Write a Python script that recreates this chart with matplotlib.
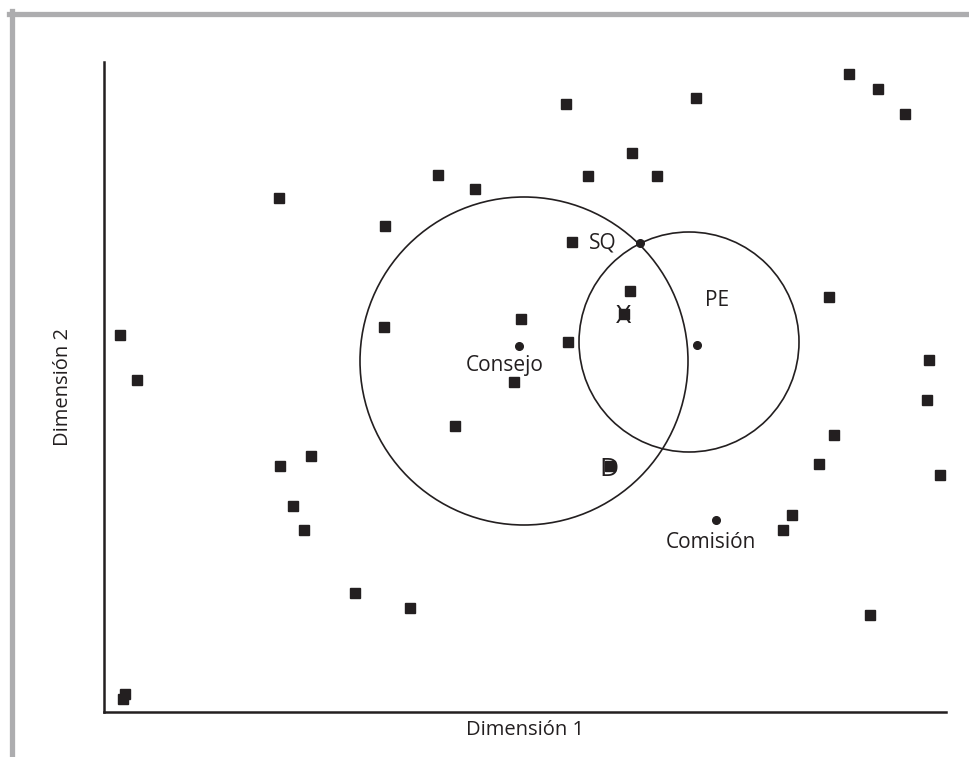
import matplotlib.pyplot as plt
from matplotlib.patches import Circle
from matplotlib.lines import Line2D

plt.rcParams['font.family'] = ['Open Sans', 'DejaVu Sans']

# ideal points of the actors (squares)
sq_x = [16, 33, 21, 19, 175, 176, 207, 189, 200, 251, 306, 281, 280, 334, 371,
        351, 417, 410, 462, 468, 464, 484, 528, 553, 526, 520, 506, 592, 745,
        774, 801, 725, 825, 823, 836, 730, 715, 688, 679, 766]
sq_y = [377, 332, 18, 13, 514, 246, 256, 206, 182, 119, 104, 486, 385, 537, 523,
        286, 393, 330, 608, 470, 370, 536, 559, 536, 421, 398, 246, 614, 638,
        623, 598, 415, 352, 312, 237, 277, 248, 197, 182, 97]

# named positions (dots)
pt_names = ['Consejo', 'PE', 'SQ', 'Comisión']
pt_x = [415, 593, 536, 612]
pt_y = [366, 367, 469, 192]
lbl_x = [401, 613, 499, 607]
lbl_y = [346, 412, 469, 170]

# indifference circles
circ_x = [420, 585]
circ_y = [351, 370]
circ_r = [164, 110]

# letter marks (baseline positions)
let_txt = ['X', 'D']
let_x = [520, 505]
let_y = [389, 236]

fig = plt.figure(figsize=(9.7, 7.57), dpi=100)
ax = fig.add_axes([104 / 970, 45 / 757, 842 / 970, 650 / 757])
ax.set_xlim(0, 842)
ax.set_ylim(0, 650)

ax.plot(sq_x, sq_y, 's', color='#231f20', markersize=6.5, linestyle='none', zorder=3)
ax.plot(pt_x, pt_y, 'o', color='#231f20', markersize=5.5, linestyle='none', zorder=3)

for cx, cy, r in zip(circ_x, circ_y, circ_r):
    ax.add_patch(Circle((cx, cy), r, fill=False, ec='#231f20', lw=1.2))

for name, x, y in zip(pt_names, lbl_x, lbl_y):
    ax.text(x, y, name, ha='center', va='center', fontsize=15, color='#231f20')

for t, x, y in zip(let_txt, let_x, let_y):
    ax.text(x, y, t, ha='center', va='baseline', fontsize=19, color='#231f20', zorder=2)

for s in ['top', 'right']:
    ax.spines[s].set_visible(False)
for s in ['left', 'bottom']:
    ax.spines[s].set_linewidth(1.8)
    ax.spines[s].set_color('#231f20')
ax.set_xticks([])
ax.set_yticks([])
ax.set_xlabel('Dimensión 1', fontsize=14.5, color='#231f20', labelpad=6)
ax.set_ylabel('Dimensión 2', fontsize=14.5, color='#231f20', labelpad=22)

# grey frame along top and left
fig.add_artist(Line2D([9 / 970, 1], [1 - 13.5 / 757] * 2, color='#adadaf', lw=3.8))
fig.add_artist(Line2D([12 / 970] * 2, [0, 1 - 11 / 757], color='#adadaf', lw=3.8))

fig.savefig('out.png', dpi=100)
